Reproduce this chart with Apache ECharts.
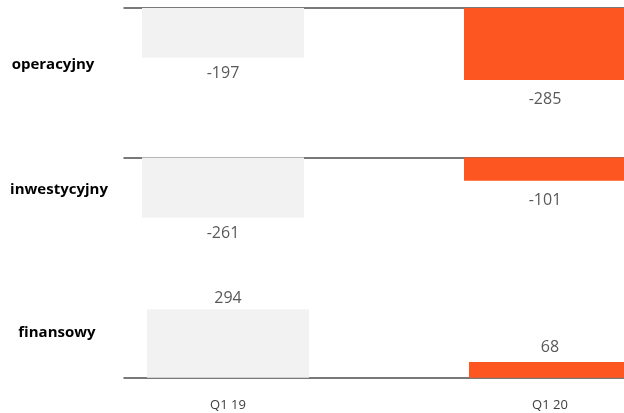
<!DOCTYPE html>
<html>
<head>
<meta charset="utf-8">
<script src="https://cdn.jsdelivr.net/npm/echarts@6/dist/echarts.min.js"></script>
<style>
  html, body { margin: 0; padding: 0; background: #fff; }
  #chart { width: 624px; height: 413px; }
</style>
</head>
<body>
<div id="chart"></div>
<script>
'use strict';

// ── Data ──────────────────────────────────────────────────────────────────────
const periods  = ['Q1 19', 'Q1 20'];
const flows    = ['operacyjny', 'inwestycyjny', 'finansowy'];
const q119     = [-197, -261, 294];
const q120     = [-285, -101, 68];

const GRAY   = '#f2f2f2';
const ORANGE = '#fd5621';
const FONT   = '"Open Sans", "Noto Sans", sans-serif';

// per-panel layout (pixels) and scale
const panels = [
  { top: 8,     height: 101, min: -400, max: 0,   xMin: -0.3075, titleTop: 52,  titleLeft: 48 },
  { top: 157.5, height: 92,  min: -400, max: 0,   xMin: -0.3075, titleTop: 177, titleLeft: 54 },
  { top: 284.7, height: 93,  min: 0,    max: 400, xMin: -0.323,  titleTop: 320, titleLeft: 52 },
];
const PX_PER_UNIT = 322;

const chart = echarts.init(document.getElementById('chart'), null, { renderer: 'canvas' });

const grids = [], xAxes = [], yAxes = [], series = [], titles = [];

panels.forEach((p, i) => {
  grids.push({ left: 124, right: 0, top: p.top, height: p.height, containLabel: false });
  const isLast = i === panels.length - 1;
  xAxes.push({
    type: 'value',
    gridIndex: i,
    min: p.xMin,
    max: p.xMin + 500 / PX_PER_UNIT,
    splitLine: { show: false },
    axisTick: { show: false },
    axisLine: { show: true, onZero: true, lineStyle: { color: '#4d4d4d', width: 1.5 } },
    axisLabel: {
      show: isLast,
      customValues: [0, 1],
      formatter: v => periods[Math.round(v)] || '',
      margin: 21,
      fontFamily: FONT,
      fontSize: 13,
      color: '#404040',
    },
  });
  yAxes.push({
    type: 'value',
    gridIndex: i,
    min: p.min,
    max: p.max,
    show: false,
    splitLine: { show: false },
  });
  series.push({
    type: 'bar',
    xAxisIndex: i,
    yAxisIndex: i,
    barWidth: 162,
    data: [
      { value: [0, q119[i]], itemStyle: { color: GRAY },   label: { distance: 5 } },
      { value: [1, q120[i]], itemStyle: { color: ORANGE }, label: { distance: 9 } },
    ],
    label: {
      show: true,
      position: 'outside',
      offset: [0, 2.5],
      fontFamily: FONT,
      fontSize: 16,
      color: '#595959',
      formatter: prm => String(prm.value[1]),
    },
    z: 1,
  });
  titles.push({
    text: flows[i],
    left: p.titleLeft,
    top: p.titleTop,
    textAlign: 'center',
    textStyle: { fontFamily: FONT, fontSize: 15, fontWeight: 'bold', color: '#000' },
  });
});

chart.setOption({
  animation: false,
  backgroundColor: '#fff',
  title: titles,
  grid: grids,
  xAxis: xAxes,
  yAxis: yAxes,
  series: series,
});
</script>
</body>
</html>
